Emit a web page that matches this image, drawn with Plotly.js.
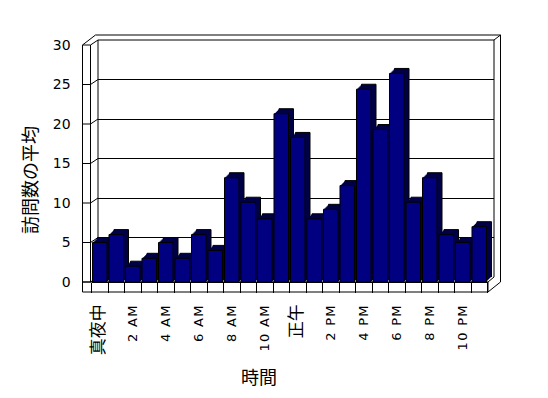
<!DOCTYPE html>
<html><head><meta charset="utf-8">
<script src="https://cdn.plot.ly/plotly-3.0.1.min.js"></script>
<style>html,body{margin:0;padding:0;background:#fff}#chart{width:548px;height:398px}</style>
</head><body><div id="chart"></div>
<script>
// ---- data ----
const hours = ['真夜中','1 AM','2 AM','3 AM','4 AM','5 AM','6 AM','7 AM','8 AM','9 AM','10 AM','11 AM',
               '正午','1 PM','2 PM','3 PM','4 PM','5 PM','6 PM','7 PM','8 PM','9 PM','10 PM','11 PM'];
const visits = [5,6,2,3,5,3,6,4,13.2,10.1,8,21.3,18.3,8,9.2,12.2,24.4,19.3,26.4,10.1,13.2,6,5,7];
const yTicks = [0,5,10,15,20,25,30];
const xTitle = '時間';
const yTitle = '訪問数の平均';
const isCJK = s => /[\u3000-\u9fff]/.test(s);
const xTickText = hours.map((h,i)=> i%2!==0 ? '' :
  (isCJK(h) ? '<span style="font-family:\'Noto Sans CJK JP\';font-size:17px">'+h+'</span>'
            : '<span style="letter-spacing:1.3px">'+h+'</span>'));

// ---- geometry (px) ----
const W=548, H=398;
const F = {x0:91.5, x1:487.5, y0:282, y1:45};   // front plane
const WALL = {dx:6.5, dy:-5};                     // back wall offset
const LX0 = 82.5, LX1 = 90.5;                     // left wall front face
const FLOOR_B = 292;
const px = x => x/W, py = y => 1 - y/H;
const yF = v => F.y0 - (F.y0-F.y1)*v/30;
const yB = v => yF(v) + WALL.dy;

const yTickFont = {family:'"DejaVu Sans", "Noto Sans CJK JP", sans-serif', size:14, color:'#000'};
const xTickFont = {family:'"DejaVu Sans", "Noto Sans CJK JP", sans-serif', size:13, color:'#000'};
const layout = {
  width:W, height:H, autosize:false, margin:{l:0,r:0,t:0,b:0},
  paper_bgcolor:'#ffffff', plot_bgcolor:'rgba(0,0,0,0)', showlegend:false,
  bargap:0.12,
  font:{family:'"Noto Sans CJK JP", "Noto Sans", sans-serif', size:16, color:'#000'},
  shapes:[], annotations:[]
};
const traces = [];
let n = 0;
function addPlane(dx, dy){
  n++;
  const s = n===1 ? '' : String(n);
  layout['xaxis'+s] = {domain:[px(F.x0+dx), px(F.x1+dx)], anchor:'y'+s, type:'category',
    categoryorder:'array', categoryarray:hours, range:[-0.5, hours.length-0.5],
    visible:false, fixedrange:true};
  layout['yaxis'+s] = {domain:[py(F.y0+dy), py(F.y1+dy)], anchor:'x'+s, range:[0,30],
    visible:false, fixedrange:true};
  return {x:'x'+s, y:'y'+s, xa:'xaxis'+s, ya:'yaxis'+s};
}

// back wall with gridlines
const back = addPlane(WALL.dx, WALL.dy);
Object.assign(layout[back.ya], {visible:true, showticklabels:false, ticks:'', showline:false,
  zeroline:false, showgrid:true, gridcolor:'#000', gridwidth:1, tickmode:'array', tickvals:yTicks});
traces.push({type:'scatter', x:[], y:[], xaxis:back.x, yaxis:back.y, hoverinfo:'skip'});

// floor dividers (category boundaries on the front of the floor slab)
const div = addPlane(0, 0);
Object.assign(layout[div.xa], {visible:true, showgrid:false, showline:false, showticklabels:false,
  tickmode:'array', tickvals:hours, ticks:'outside', tickson:'boundaries', ticklen:10,
  tickcolor:'#000', tickwidth:1});
traces.push({type:'scatter', x:[], y:[], xaxis:div.x, yaxis:div.y, hoverinfo:'skip'});

// depth layers of the bars (back to front)
for (let t=5; t>=1; t--){
  const p = addPlane(t, -t);
  traces.push({type:'bar', x:hours, y:visits, xaxis:p.x, yaxis:p.y, hoverinfo:'skip',
    marker:{color:'#000046', line:{color:'#000', width: t===5 ? 1 : 0}}});
}

// front faces
const front = addPlane(0, 0);
traces.push({type:'bar', x:hours, y:visits, xaxis:front.x, yaxis:front.y, name:yTitle,
  marker:{color:'#000080', line:{color:'#000', width:1}}});
Object.assign(layout[front.xa], {visible:true, showgrid:false, showline:true, linecolor:'#000', linewidth:1,
  tickmode:'array', tickvals:hours, ticktext:xTickText, tickangle:-90, ticks:'outside',
  ticklen:16, tickcolor:'rgba(0,0,0,0)', tickfont:xTickFont});
Object.assign(layout[front.ya], {visible:true, showgrid:false, showline:false, zeroline:false,
  tickmode:'array', tickvals:yTicks, ticks:'outside', ticklen:17, tickcolor:'rgba(0,0,0,0)',
  tickfont:yTickFont});

// walls and floor
function L(x0,y0,x1,y1){
  layout.shapes.push({type:'line', xref:'paper', yref:'paper', layer:'below',
    x0:px(x0), y0:py(y0), x1:px(x1), y1:py(y1), line:{color:'#000', width:1}});
}
const bL = F.x0+WALL.dx, bR = F.x1+WALL.dx, bT = yB(30), bBot = yB(0);
const oR = bR + WALL.dx, oT = bT + WALL.dy;
// back wall inner face
L(bL,bT,bR,bT); L(bR,bT,bR,bBot); L(bL,bT,bL,bBot);
// back wall outer edge
L(LX0+2*WALL.dx, oT, oR, oT); L(bR,bT,oR,oT); L(oR,oT,oR,F.y0);
// left wall
L(LX0,yF(30),LX0,FLOOR_B); L(LX1,yF(30),LX1,F.y0);
L(LX0,yF(30),LX0+2*WALL.dx,oT);
yTicks.forEach(v=>{ L(LX0,yF(v),LX1,yF(v)); L(LX1,yF(v),bL,yB(v)); });
// floor slab
L(LX0,F.y0,F.x1+0.5,F.y0); L(LX0,FLOOR_B,F.x1+0.5,FLOOR_B); L(F.x1+0.5,F.y0,F.x1+0.5,FLOOR_B);
L(F.x1+0.5,FLOOR_B,oR,F.y0); L(F.x1+0.5,F.y0,bR,bBot);

// titles
layout.annotations.push({text:yTitle, xref:'paper', yref:'paper', x:px(29), y:py(180),
  textangle:-90, showarrow:false, font:{size:18}, xanchor:'center', yanchor:'middle'});
layout.annotations.push({text:xTitle, xref:'paper', yref:'paper', x:px(259), y:py(376),
  showarrow:false, font:{size:18}, xanchor:'center', yanchor:'middle'});

Plotly.newPlot('chart', traces, layout, {staticPlot:true, displayModeBar:false});
</script>
</body></html>
